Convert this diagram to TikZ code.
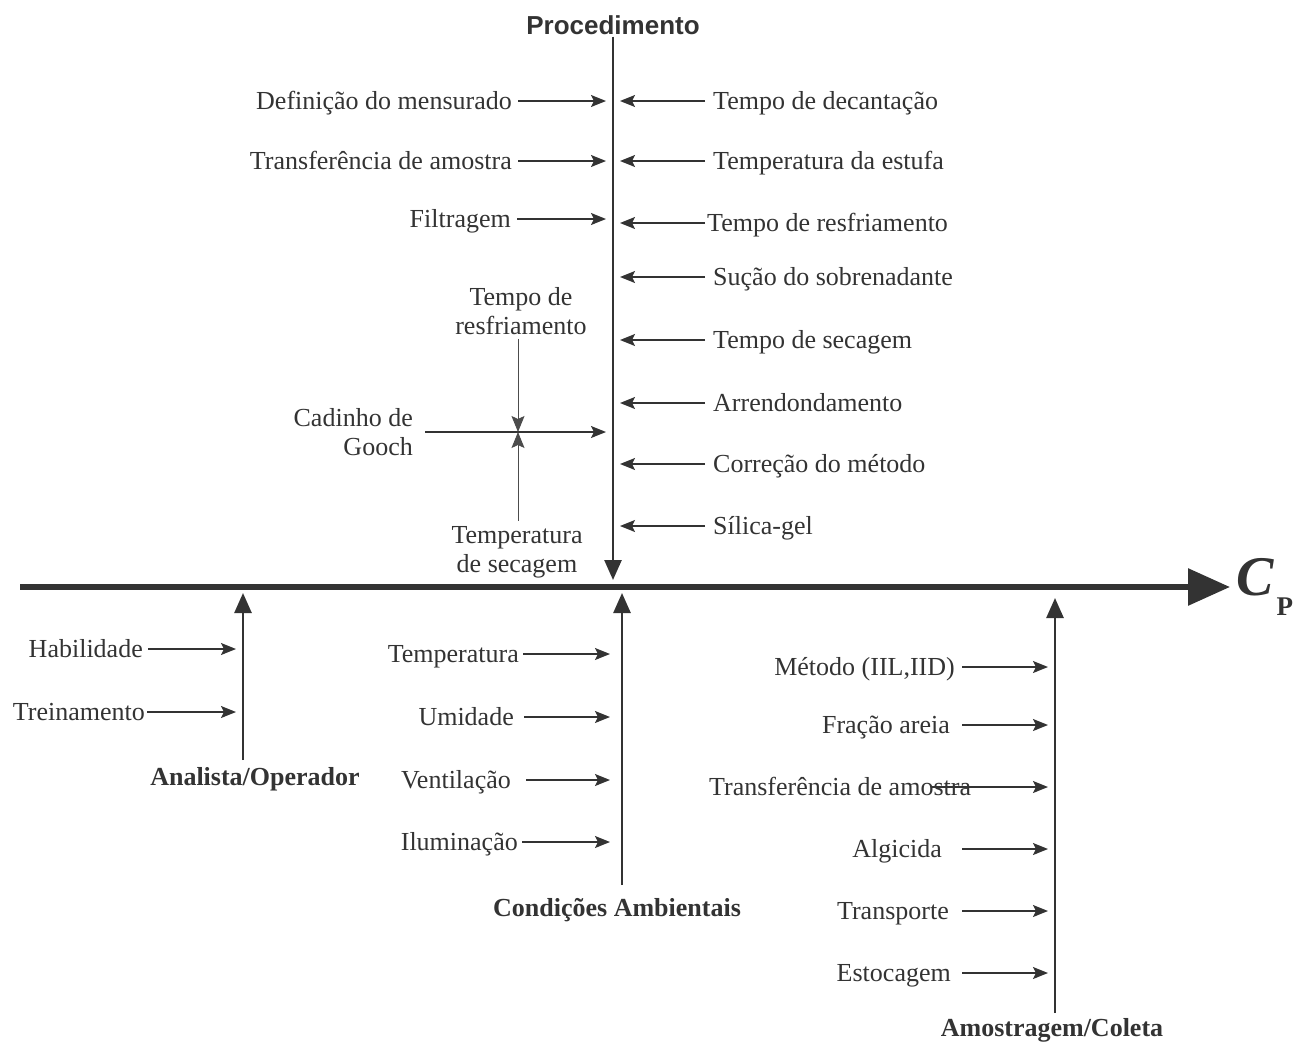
\documentclass[tikz,border=0pt]{standalone}
\usepackage{fontspec}
\setmainfont{Liberation Serif}
\setsansfont{Liberation Sans}
\usetikzlibrary{arrows.meta}

\begin{document}
\begin{tikzpicture}[
    x=1pt, y=-1pt,
    font=\fontsize{26}{29}\selectfont,
    every node/.style={text=black!80},
    % Line styles
    spine/.style={draw=black!80, line width=6pt, -{Triangle[length=42pt, width=36pt]}},
    bone/.style={draw=black!80, line width=2.6pt, -{Triangle[length=20pt, width=17pt]}},
    cause/.style={draw=black!80, line width=1.5pt, -{Stealth[length=15pt, width=12pt, inset=3pt]}, shorten <=6pt, shorten >=7pt},
    subcause/.style={draw=black!70, line width=1pt, -{Stealth[length=16pt, width=13pt, inset=3pt]}},
    % Text styles
    label/.style={inner sep=0pt, text height=21pt, text depth=4pt},
    group/.style={font=\fontsize{26}{29}\selectfont\bfseries, inner sep=2pt},
    groupsf/.style={font=\fontsize{26}{29}\selectfont\sffamily\bfseries, inner sep=2pt}
]
\useasboundingbox (0,0) rectangle (1310,1044);

% --- Main spine ---
\coordinate (tail) at (20,587);
\node[anchor=base west, inner sep=0pt] (cp) at (1236,595) {\fontsize{56}{56}\selectfont\bfseries\itshape C\kern3pt\raisebox{-20pt}{\fontsize{27}{27}\selectfont\upshape P}};
\draw[spine] (tail) -- (tail -| cp.west) [shorten >=6pt];

% --- Procedimento ---
\node[groupsf] (proc) at (613,25) {Procedimento};
\draw[bone] (proc.south) -- (proc.south |- tail) [shorten >=7pt];

\node[label, anchor=east] (defmens) at (512,101) {Definição do mensurado};
\draw[cause] (defmens.east) -- (defmens.east -| proc);
\node[label, anchor=east] (transfA) at (512,161) {Transferência de amostra};
\draw[cause] (transfA.east) -- (transfA.east -| proc);
\node[label, anchor=east] (filtr) at (511,219) {Filtragem};
\draw[cause] (filtr.east) -- (filtr.east -| proc);

\node[inner sep=0pt, align=right, anchor=east] (cadinho) at (413,432) {Cadinho de\\Gooch};
\coordinate (cross) at (518,432);
\draw[cause] (cadinho.east |- cross) -- (cross -| proc) [shorten <=12pt];
\node[inner sep=0pt, align=center] (tresfA) at (521,311) {Tempo de\\resfriamento};
\node[inner sep=0pt, align=center] (tsecA) at (517,552) {Temperatura\\de secagem};
\draw[subcause] (tresfA.south -| cross) -- (cross) [shorten <=4pt];
\draw[subcause] (tsecA.north -| cross) -- (cross) [shorten <=5pt];

\node[label, anchor=west] (tdec) at (713,101) {Tempo de decantação};
\draw[cause] (tdec.west) -- (tdec.west -| proc) [shorten <=8pt];
\node[label, anchor=west] (testufa) at (713,161) {Temperatura da estufa};
\draw[cause] (testufa.west) -- (testufa.west -| proc) [shorten <=8pt];
\node[label, anchor=west] (tresfB) at (707,223) {Tempo de resfriamento};
\draw[cause] (tresfB.west) -- (tresfB.west -| proc) [shorten <=2pt];
\node[label, anchor=west] (sucao) at (713,277) {Sução do sobrenadante};
\draw[cause] (sucao.west) -- (sucao.west -| proc) [shorten <=8pt];
\node[label, anchor=west] (tsecB) at (713,340) {Tempo de secagem};
\draw[cause] (tsecB.west) -- (tsecB.west -| proc) [shorten <=8pt];
\node[label, anchor=west] (arred) at (713,403) {Arrendondamento};
\draw[cause] (arred.west) -- (arred.west -| proc) [shorten <=8pt];
\node[label, anchor=west] (correc) at (713,464) {Correção do método};
\draw[cause] (correc.west) -- (correc.west -| proc) [shorten <=8pt];
\node[label, anchor=west] (silica) at (713,526) {Sílica-gel};
\draw[cause] (silica.west) -- (silica.west -| proc) [shorten <=8pt];

% --- Analista/Operador ---
\node[group] (analista) at (255,779) {Analista/Operador};
\coordinate (ana) at (243,760);
\draw[bone] (ana) -- (ana |- tail) [shorten >=6pt];
\node[label, anchor=east] (habil) at (143,649) {Habilidade};
\draw[cause] (habil.east) -- (habil.east -| ana) [shorten <=5pt];
\node[label, anchor=east] (trein) at (145,712) {Treinamento};
\draw[cause] (trein.east) -- (trein.east -| ana) [shorten <=2pt];

% --- Condicoes Ambientais ---
\node[group] (condicoes) at (617,910) {Condições Ambientais};
\coordinate (cond) at (622,885);
\draw[bone] (cond) -- (cond |- tail) [shorten >=6pt];
\node[label, anchor=east] (temp) at (519,654) {Temperatura};
\draw[cause] (temp.east) -- (temp.east -| cond) [shorten <=4pt, shorten >=12pt];
\node[label, anchor=east] (umid) at (514,717) {Umidade};
\draw[cause] (umid.east) -- (umid.east -| cond) [shorten <=10pt, shorten >=12pt];
\node[label, anchor=east] (vent) at (511,780) {Ventilação};
\draw[cause] (vent.east) -- (vent.east -| cond) [shorten <=15pt, shorten >=12pt];
\node[label, anchor=east] (ilum) at (518,842) {Iluminação};
\draw[cause] (ilum.east) -- (ilum.east -| cond) [shorten <=4pt, shorten >=12pt];

% --- Amostragem/Coleta ---
\node[group] (amostragem) at (1052,1030) {Amostragem/Coleta};
\coordinate (amo) at (1055,1013);
\draw[bone] (amo) -- (amo |- tail) [shorten >=11pt];
\node[label, anchor=east] (metodo) at (955,667) {Método (IIL,IID)};
\draw[cause] (metodo.east) -- (metodo.east -| amo) [shorten <=7pt];
\node[label, anchor=east] (fracao) at (950,725) {Fração areia};
\draw[cause] (fracao.east) -- (fracao.east -| amo) [shorten <=12pt];
\node[label, anchor=west] (transfB) at (709,787) {Transferência de amostra};
\draw[cause] ([xshift=-40pt]transfB.east) -- (transfB.east -| amo) [shorten <=0pt];
\node[label, anchor=east] (algicida) at (942,849) {Algicida};
\draw[cause] (algicida.east) -- (algicida.east -| amo) [shorten <=20pt];
\node[label, anchor=east] (transp) at (949,911) {Transporte};
\draw[cause] (transp.east) -- (transp.east -| amo) [shorten <=13pt];
\node[label, anchor=east] (estoc) at (951,973) {Estocagem};
\draw[cause] (estoc.east) -- (estoc.east -| amo) [shorten <=11pt];

\end{tikzpicture}
\end{document}
